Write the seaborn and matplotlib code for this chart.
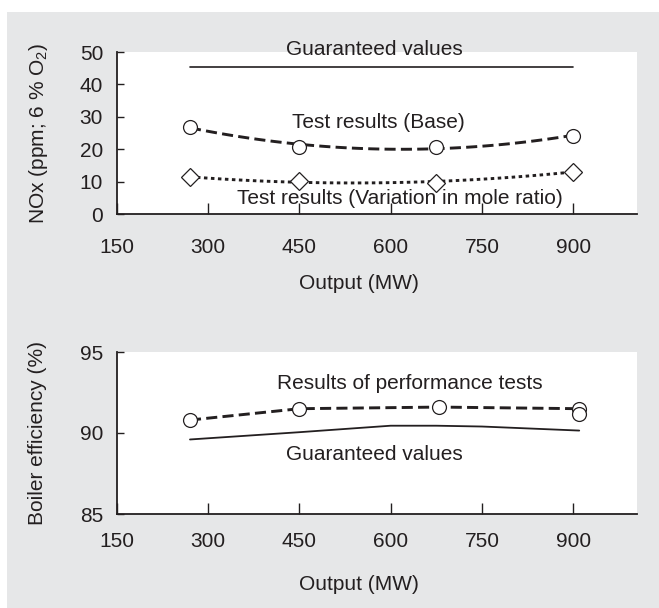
import numpy as np
import pandas as pd
import matplotlib
matplotlib.use("Agg")
from matplotlib import pyplot as plt
from matplotlib.patches import Rectangle
import seaborn as sns

# NOx chart
nox_guar_x = [270, 900]
nox_guar_y = [45.5, 45.5]
nox_base_x = [270, 450, 675, 900]
nox_base_y = [26.9, 20.8, 20.8, 24.1]
nox_mole_x = [270, 450, 675, 900]
nox_mole_y = [11.3, 10.2, 9.7, 13.1]

# boiler efficiency chart
eff_test_x = [270, 450, 680, 910, 910]
eff_test_y = [90.8, 91.5, 91.6, 91.5, 91.2]
eff_guar_x = [270, 450, 600, 675, 750, 910]
eff_guar_y = [89.6, 90.05, 90.45, 90.45, 90.4, 90.15]

x_ticks = [150, 300, 450, 600, 750, 900]

sns.set_style("ticks")
plt.rcParams['font.family'] = ['Liberation Sans', 'DejaVu Sans']
plt.rcParams['mathtext.fontset'] = 'custom'
plt.rcParams['mathtext.rm'] = 'Liberation Sans'

ink = '#231f20'
fs = 15

fig = plt.figure(figsize=(6.59, 6.08), dpi=100, facecolor='white')
fig.patches.append(Rectangle((7/659, 0), 1, 1 - 12/608, transform=fig.transFigure,
                             facecolor='#e6e7e8', edgecolor='none', zorder=-10))

ax1 = fig.add_axes([117/659, 1 - 214/608, 520/659, 162/608])
ax2 = fig.add_axes([117/659, 1 - 514/608, 520/659, 162/608])

dash = (0, (3.8, 1.8))
dot = (0, (1.2, 1.2))
mk = dict(markerfacecolor='white', markeredgecolor=ink, markeredgewidth=0.9)

# --- top: NOx ---
sns.lineplot(x=nox_guar_x, y=nox_guar_y, ax=ax1, color=ink, lw=1.2)
sns.regplot(x=nox_base_x, y=nox_base_y, ax=ax1, order=2, ci=None, scatter=False,
            line_kws=dict(color=ink, lw=2.1, linestyle=dash))
sns.regplot(x=nox_mole_x, y=nox_mole_y, ax=ax1, order=2, ci=None, scatter=False,
            line_kws=dict(color=ink, lw=2.1, linestyle=dot))
ax1.plot(nox_base_x, nox_base_y, linestyle='none', marker='o', markersize=10, zorder=5, **mk)
ax1.plot(nox_mole_x, nox_mole_y, linestyle='none', marker='D', markersize=9.5, zorder=5, **mk)

ax1.text(574, 49.1, 'Guaranteed values', ha='center', va='baseline', fontsize=fs, color=ink, clip_on=False)
ax1.text(579, 26.6, 'Test results (Base)', ha='center', va='baseline', fontsize=fs, color=ink)
ax1.text(615, 3.1, 'Test results (Variation in mole ratio)', ha='center', va='baseline', fontsize=fs, color=ink)

ax1.set_ylim(0, 50)
ax1.set_yticks([0, 10, 20, 30, 40, 50])
ax1.set_ylabel('NOx (ppm; 6 % O$\\mathregular{_2}$)', fontsize=fs, color=ink)
ax1.set_xlabel('Output (MW)', fontsize=fs, color=ink)
ax1.yaxis.set_label_coords(-0.128, 0.5)
ax1.xaxis.set_label_coords(0.465, -0.37)

# --- bottom: efficiency ---
sns.lineplot(x=eff_guar_x, y=eff_guar_y, ax=ax2, color=ink, lw=1.3, estimator=None, sort=False)
sns.lineplot(x=eff_test_x, y=eff_test_y, ax=ax2, color=ink, lw=2.1, estimator=None, sort=False,
             linestyle=dash, marker='o', markersize=10, zorder=5, **mk)

ax2.text(632, 92.7, 'Results of performance tests', ha='center', va='baseline', fontsize=fs, color=ink)
ax2.text(574, 88.33, 'Guaranteed values', ha='center', va='baseline', fontsize=fs, color=ink)

ax2.set_ylim(85, 95)
ax2.set_yticks([85, 90, 95])
ax2.set_ylabel('Boiler efficiency (%)', fontsize=fs, color=ink)
ax2.set_xlabel('Output (MW)', fontsize=fs, color=ink)
ax2.yaxis.set_label_coords(-0.135, 0.5)
ax2.xaxis.set_label_coords(0.465, -0.377)

for ax, xpad in [(ax1, 17), (ax2, 13)]:
    ax.set_facecolor('white')
    ax.set_xlim(150, 1005)
    ax.set_xticks(x_ticks)
    for side in ['top', 'right']:
        ax.spines[side].set_visible(False)
    for side in ['left', 'bottom']:
        ax.spines[side].set_color(ink)
        ax.spines[side].set_linewidth(1.3)
    ax.tick_params(axis='x', direction='in', length=8, width=1, color=ink,
                   labelsize=fs, labelcolor=ink, pad=xpad)
    ax.tick_params(axis='y', direction='in', length=5, width=1, color=ink,
                   labelsize=fs, labelcolor=ink, pad=10)

fig.savefig('out.png', dpi=100, facecolor=fig.get_facecolor())
